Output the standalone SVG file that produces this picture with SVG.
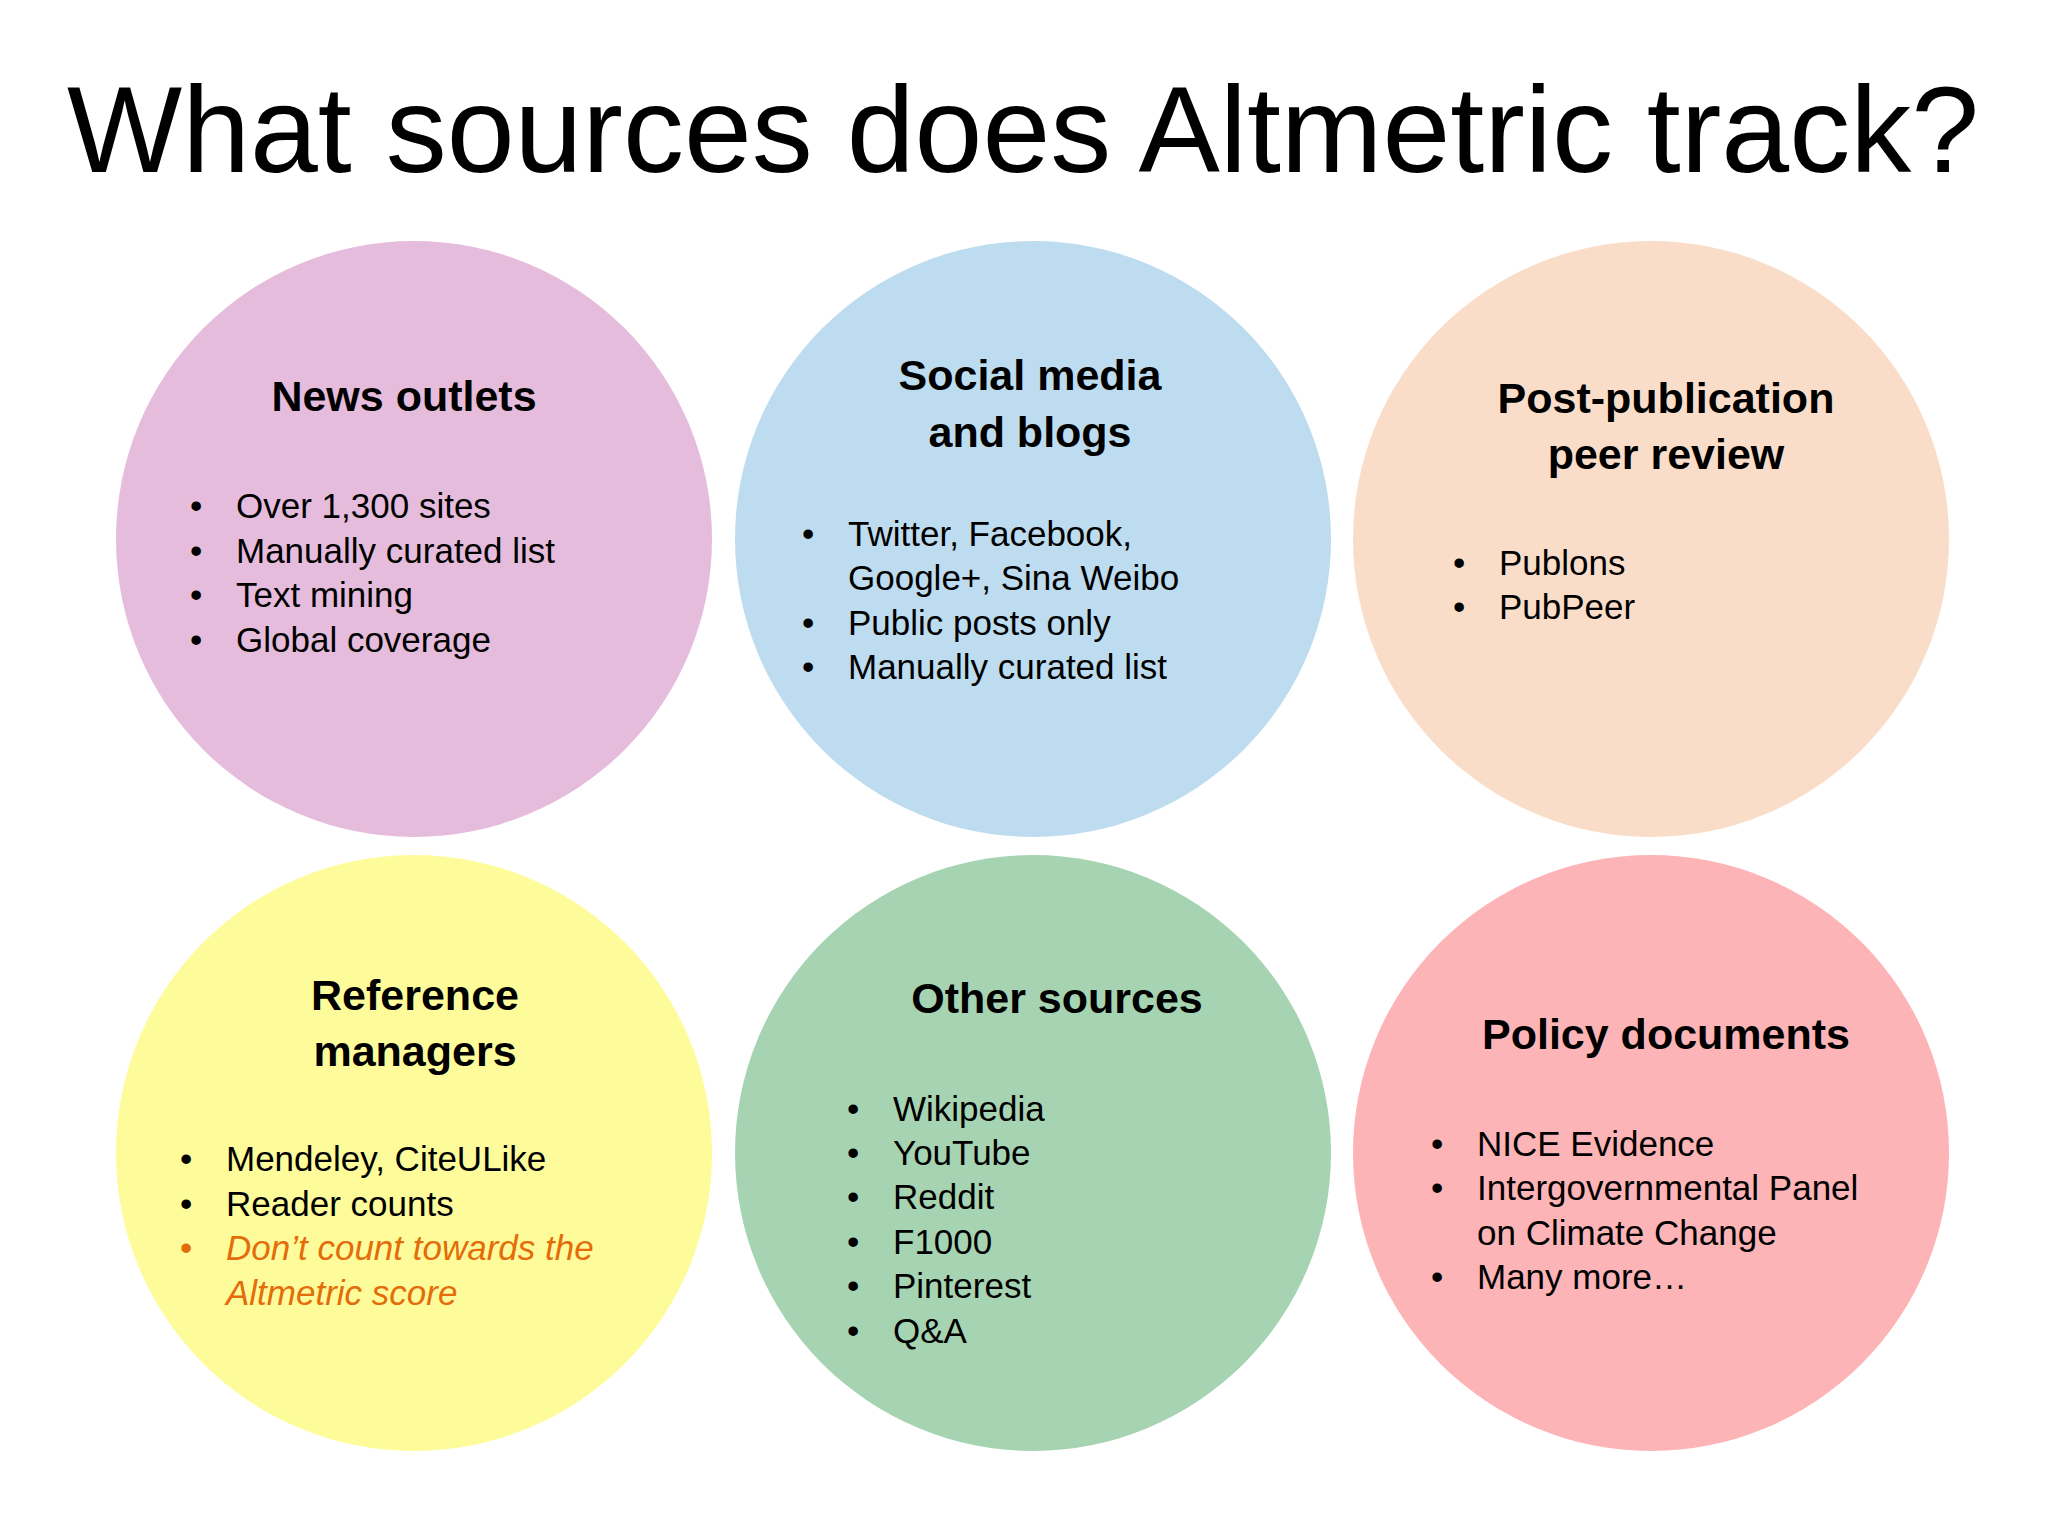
<svg xmlns="http://www.w3.org/2000/svg" width="2048" height="1536" viewBox="0 0 2048 1536">
<style>
text{font-family:"Liberation Sans",Arial,sans-serif;fill:#000}
.t{font-size:122px}
.h{font-size:43px;font-weight:bold;text-anchor:middle}
.b{font-size:35px}
.o{fill:#E46C0A;font-style:italic}
.ob{fill:#E46C0A}
</style>
<rect width="2048" height="1536" fill="#fff"/>
<text class="t" x="1023" y="172" text-anchor="middle">What sources does Altmetric track?</text>
<g id="news">
<circle cx="414" cy="539" r="298" fill="#E6BCDC"/>
<text class="h" x="404" y="411">News outlets</text>
<g class="b"><text x="190" y="518">•</text><text x="236" y="518">Over 1,300 sites</text>
<text x="190" y="563">•</text><text x="236" y="563">Manually curated list</text>
<text x="190" y="607">•</text><text x="236" y="607">Text mining</text>
<text x="190" y="652">•</text><text x="236" y="652">Global coverage</text></g>
</g>
<g id="social">
<circle cx="1033" cy="539" r="298" fill="#BEDCEF"/>
<text class="h" x="1030" y="390">Social media</text>
<text class="h" x="1030" y="447">and blogs</text>
<g class="b"><text x="802" y="546">•</text><text x="848" y="546">Twitter, Facebook,</text>
<text x="848" y="590">Google+, Sina Weibo</text>
<text x="802" y="635">•</text><text x="848" y="635">Public posts only</text>
<text x="802" y="679">•</text><text x="848" y="679">Manually curated list</text></g>
</g>
<g id="peer">
<circle cx="1651" cy="539" r="298" fill="#FADDC8"/>
<text class="h" x="1666" y="413">Post-publication</text>
<text class="h" x="1666" y="469">peer review</text>
<g class="b"><text x="1453" y="575">•</text><text x="1499" y="575">Publons</text>
<text x="1453" y="619">•</text><text x="1499" y="619">PubPeer</text></g>
</g>
<g id="reference">
<circle cx="414" cy="1153" r="298" fill="#FEFC9A"/>
<text class="h" x="415" y="1010">Reference</text>
<text class="h" x="415" y="1066">managers</text>
<g class="b"><text x="180" y="1171">•</text><text x="226" y="1171">Mendeley, CiteULike</text>
<text x="180" y="1216">•</text><text x="226" y="1216">Reader counts</text>
<text class="ob" x="180" y="1260">•</text><text class="o" x="226" y="1260">Don’t count towards the</text>
<text class="o" x="226" y="1305">Altmetric score</text></g>
</g>
<g id="other">
<circle cx="1033" cy="1153" r="298" fill="#A6D4B2"/>
<text class="h" x="1057" y="1013">Other sources</text>
<g class="b"><text x="847" y="1121">•</text><text x="893" y="1121">Wikipedia</text>
<text x="847" y="1165">•</text><text x="893" y="1165">YouTube</text>
<text x="847" y="1209">•</text><text x="893" y="1209">Reddit</text>
<text x="847" y="1254">•</text><text x="893" y="1254">F1000</text>
<text x="847" y="1298">•</text><text x="893" y="1298">Pinterest</text>
<text x="847" y="1343">•</text><text x="893" y="1343">Q&amp;A</text></g>
</g>
<g id="policy">
<circle cx="1651" cy="1153" r="298" fill="#FDB4B6"/>
<text class="h" x="1666" y="1049">Policy documents</text>
<g class="b"><text x="1431" y="1156">•</text><text x="1477" y="1156">NICE Evidence</text>
<text x="1431" y="1200">•</text><text x="1477" y="1200">Intergovernmental Panel</text>
<text x="1477" y="1245">on Climate Change</text>
<text x="1431" y="1289">•</text><text x="1477" y="1289">Many more…</text></g>
</g>
</svg>
